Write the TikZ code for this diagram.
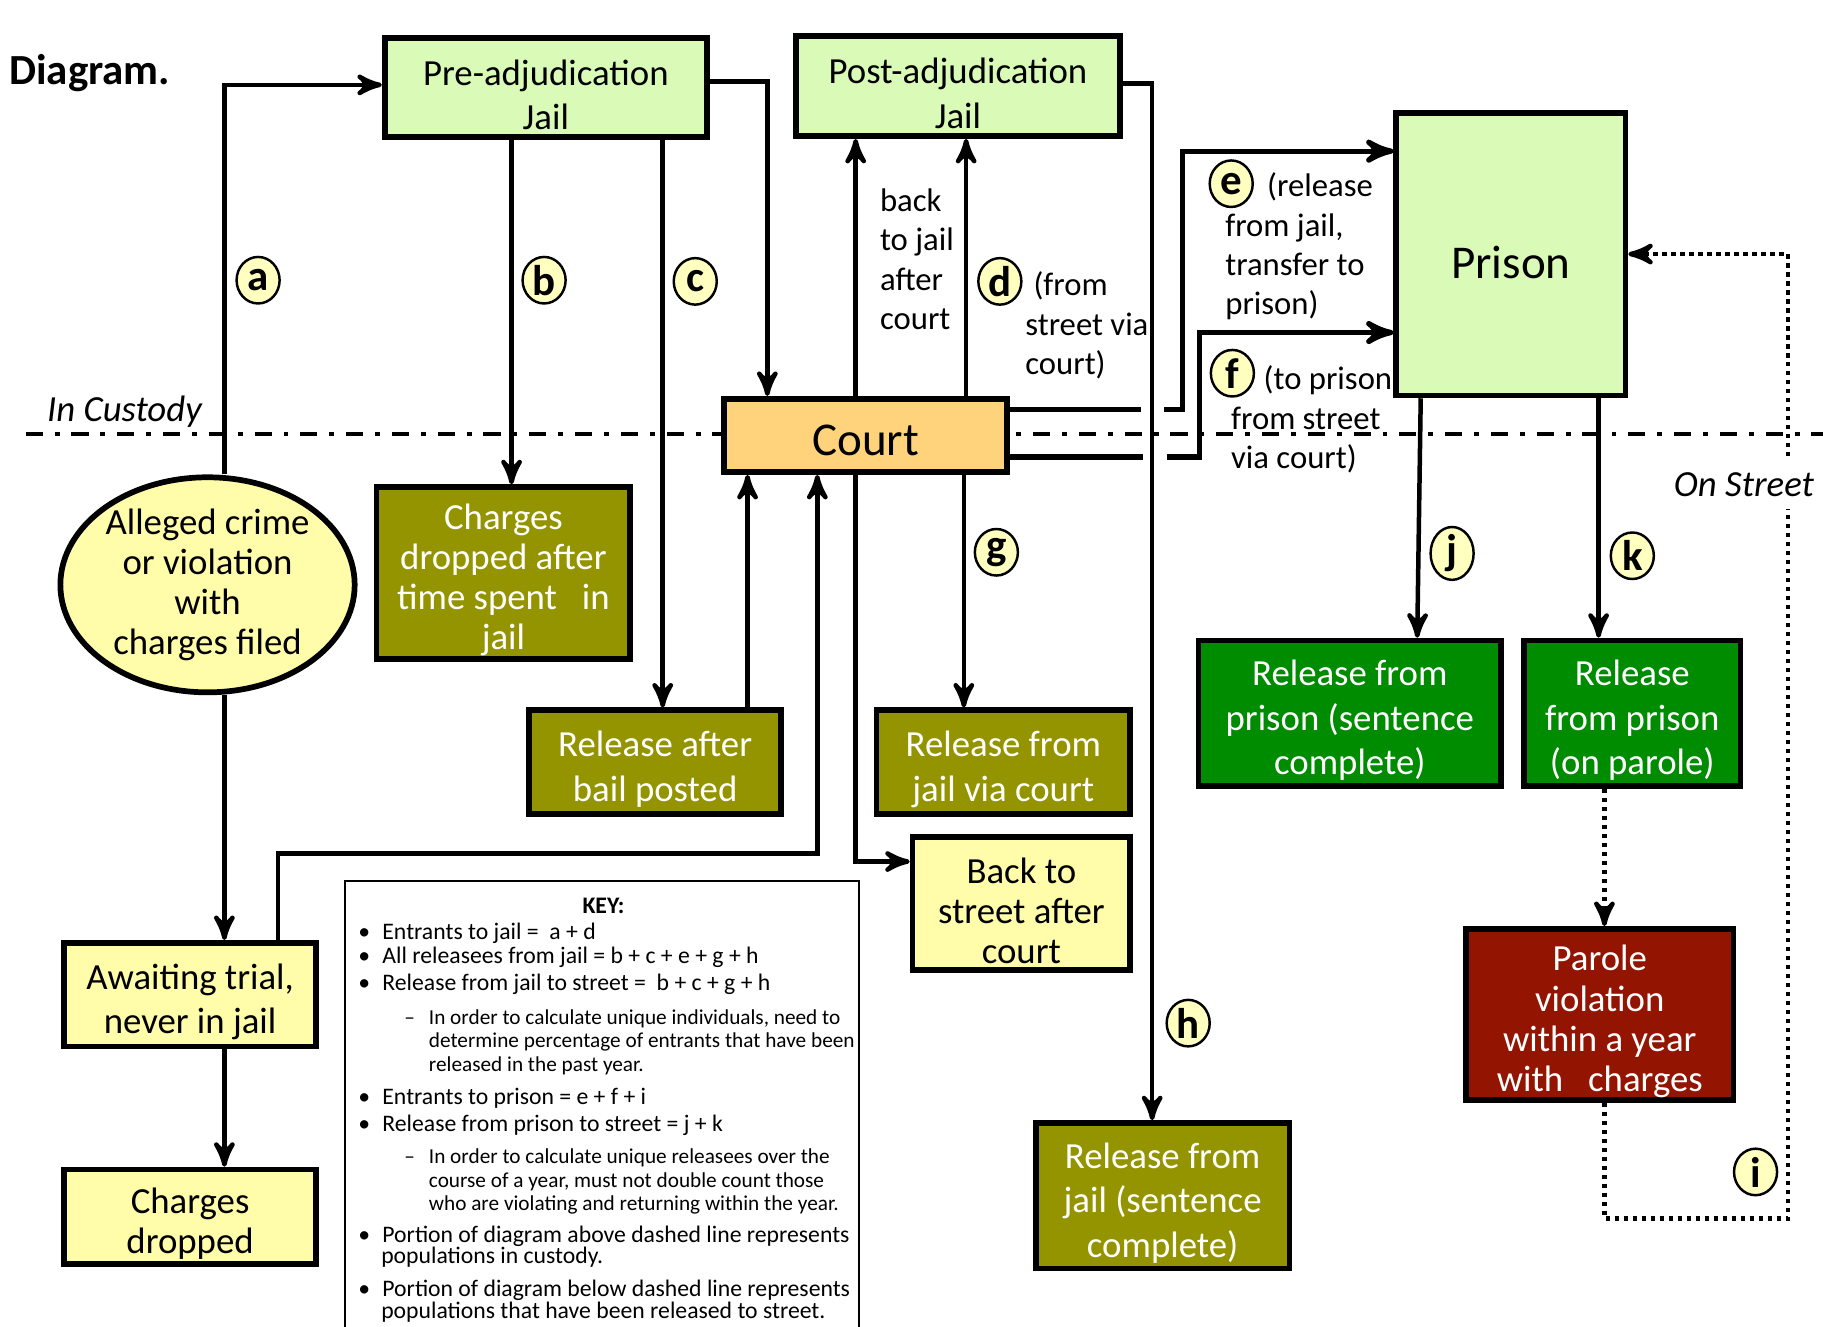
\documentclass[tikz,border=0pt]{standalone}
\usepackage[dvipsnames]{xcolor}
\usepackage{fontspec}
\setmainfont{Carlito}
\usepackage{tikz}
\usetikzlibrary{shapes.geometric, arrows}

\definecolor{jailgreen}{HTML}{DAFBB8}
\definecolor{courtorange}{HTML}{FFD37C}
\definecolor{paleyellow}{HTML}{FFFCAA}
\definecolor{jailolive}{HTML}{949400}
\definecolor{prisongreen}{HTML}{008C00}
\definecolor{violred}{HTML}{931400}
\definecolor{tagyellow}{HTML}{FFFFC0}

% pushes the text of a box a little lower
\newcommand{\boxstrut}[1][9.7pt]{\rule{0pt}{#1}}

\begin{document}
\begin{tikzpicture}[x=0.01cm,y=-0.01cm,>=stealth',line width=1.1pt]
\tikzstyle{block} = [rectangle, draw=black, line width=1.4pt, align=center, inner sep=0pt, font=\fontsize{9}{10.9}\selectfont]
\tikzstyle{custodybox} = [block, fill=jailgreen]
\tikzstyle{streetbox} = [block, fill=paleyellow]
\tikzstyle{jailrelease} = [block, fill=jailolive, text=white]
\tikzstyle{prisonrelease} = [block, fill=prisongreen, text=white]
\tikzstyle{violbox} = [block, fill=violred, text=white]
\tikzstyle{tightlines} = [font=\fontsize{9}{9.8}\selectfont]
\tikzstyle{bigname} = [font=\fontsize{11.5}{13}\selectfont]
\tikzstyle{flowarrow} = [->, line width=1.1pt]
\tikzstyle{thickflow} = [line width=1.3pt]
\tikzstyle{dotflow} = [line width=1.1pt, dash pattern=on 1.1pt off 1.1pt]
\tikzstyle{custodyline} = [line width=1pt, dash pattern=on 4.2pt off 2.9pt on 1.2pt off 2.9pt]
\tikzstyle{letter} = [ellipse, draw=black, line width=0.6pt, fill=tagyellow, inner sep=0pt, minimum width=0.37cm, minimum height=0.40cm, font=\fontsize{10.5}{10.5}\bfseries\selectfont]
\tikzstyle{notetext} = [align=left, inner sep=0pt, anchor=west, font=\fontsize{8}{9.65}\selectfont]
\tikzstyle{keyitem} = [anchor=base west, inner sep=0pt, font=\fontsize{5.8}{6}\selectfont]
\tikzstyle{keysub} = [keyitem, font=\fontsize{5.2}{6}\selectfont]

\useasboundingbox (0,0) rectangle (1568,1141);

% boundary between custody and street
\draw[custodyline] (22,373) -- (1568,373);

% stages
\node[custodybox, minimum width=2.77cm, minimum height=0.85cm] (preadj) at (469.5,75.5) {\boxstrut Pre-adjudication\\Jail};
\node[custodybox, minimum width=2.78cm, minimum height=0.86cm] (postadj) at (824,74) {\boxstrut Post-adjudication\\Jail};
\node[custodybox, bigname, minimum width=1.97cm, minimum height=2.43cm] (prison) at (1299.5,218.5) {\boxstrut[12pt]Prison};
\node[block, bigname, fill=courtorange, minimum width=2.43cm, minimum height=0.63cm] (court) at (744.5,374.5) {\boxstrut Court};
\node[ellipse, draw=black, line width=1.4pt, fill=paleyellow, align=center, inner sep=0pt, tightlines, minimum width=2.53cm, minimum height=1.78cm] (ell) at (178.5,503) {Alleged crime\\or violation\\with\\charges filed};

\node[jailrelease, tightlines, minimum width=2.18cm, minimum height=1.48cm] (dropjail) at (433,493) {\boxstrut Charges\\dropped after\\time spent~~~in\\jail};
\node[jailrelease, minimum width=2.17cm, minimum height=0.89cm] (bail) at (563.5,655.5) {\boxstrut Release after\\bail posted};
\node[jailrelease, minimum width=2.18cm, minimum height=0.89cm] (viacourt) at (863,655.5) {\boxstrut Release from\\jail via court};
\node[streetbox, tightlines, minimum width=1.87cm, minimum height=1.14cm] (backstreet) at (878.5,777) {\boxstrut Back to\\street after\\court};
\node[jailrelease, minimum width=2.18cm, minimum height=1.25cm] (jaildone) at (1000,1028.5) {\boxstrut Release from\\jail (sentence\\complete)};
\node[prisonrelease, minimum width=2.60cm, minimum height=1.25cm] (prisondone) at (1161,613.5) {\boxstrut Release from\\prison (sentence\\complete)};
\node[prisonrelease, minimum width=1.86cm, minimum height=1.25cm] (parole) at (1404,613.5) {\boxstrut Release\\from prison\\(on parole)};
\node[violbox, tightlines, minimum width=2.30cm, minimum height=1.47cm] (violation) at (1376,872.5) {\boxstrut Parole\\violation\\within a year\\with~~~charges};
\node[streetbox, minimum width=2.17cm, minimum height=0.89cm] (awaiting) at (163.5,855.5) {\boxstrut Awaiting trial,\\never in jail};
\node[streetbox, tightlines, minimum width=2.17cm, minimum height=0.81cm] (dropped) at (163.5,1046.5) {\boxstrut Charges\\dropped};

% flows
\draw[flowarrow] (ell.north -| 193,0) |- (preadj.west |- 0,73);
\draw[flowarrow] (ell.south -| 193,0) -- (awaiting.north -| 193,0);
\draw[flowarrow] (awaiting.south -| 193,0) -- (dropped.north -| 193,0);
\draw[flowarrow] (preadj.south -| 440,0) -- (dropjail.north -| 440,0);
\draw[flowarrow] (preadj.south -| 570,0) -- (bail.north -| 570,0);
\draw[flowarrow] (preadj.east |- 0,70) -| (court.north -| 660,0);
\draw[flowarrow] (bail.north -| 643,0) -- (court.south -| 643,0);
\draw[flowarrow] (awaiting.north -| 239,0) |- (703,734) -- (court.south -| 703,0);
\draw[flowarrow] (court.south -| 736,0) |- (backstreet.west |- 0,741);
\draw[flowarrow] (court.north -| 736,0) -- (postadj.south -| 736,0);
\draw[flowarrow] (court.north -| 831,0) -- (postadj.south -| 831,0);
\draw[flowarrow] (court.south -| 829,0) -- (viacourt.north -| 829,0);
\draw[flowarrow] (postadj.east |- 0,72) -| (jaildone.north -| 991,0);

% e and f hop over h
\coordinate (ehopin) at (981,352);
\coordinate (ehopout) at (1001,352);
\coordinate (fhopin) at (983,393);
\coordinate (fhopout) at (1004,393);
\draw[thickflow] (court.east |- ehopin) -- (ehopin);
\draw[thickflow,->] (ehopout) -- (1017,352) |- (prison.west |- 0,130);
\draw[thickflow] (court.east |- fhopin) -- (fhopin);
\draw[thickflow,->] (fhopout) -- (1032,393) |- (prison.west |- 0,286);

\draw[flowarrow] (prison.south -| 1222,0) -- (prisondone.north -| 1219,0);
\draw[flowarrow] (prison.south -| 1375,0) -- (parole.north -| 1375,0);

% parole loop
\draw[dotflow,->] (parole.south -| 1380,0) -- (violation.north -| 1380,0);
\draw[dotflow,->] (violation.south -| 1380,0) |- (1538,1048) |- (prison.east);

% flow letters
\node[letter] (la) at (222,241) {a};
\node[letter] (lb) at (468,241) {b};
\node[letter] (lc) at (598,242) {c};
\node[letter] (ld) at (860,242) {d};
\node[letter] (le) at (1059,158) {e};
\node[letter] (lf) at (1060,321) {f};
\node[letter] (lg) at (857,475) {g};
\node[letter] (lh) at (1022,880) {h};
\node[letter] (li) at (1510,1008) {i};
\node[letter] (lj) at (1249,476) {j};
\node[letter] (lk) at (1404,478) {k};

% notes beside flows
\node[notetext] (backnote) at (755,223) {back\\to jail\\after\\court};
\node[notetext] (dnote) at (880,280) {\hspace*{0.07cm}(from\\street via\\court)};
\node[notetext] (enote) at (1052,212) {\hspace*{0.36cm}(release\\from jail,\\transfer to\\prison)};
\node[notetext] (fnote) at (1057,361) {\hspace*{0.28cm}(to prison\\from street\\via court)};

% titles
\node[anchor=west, inner sep=0pt, font=\fontsize{10.5}{12}\bfseries\selectfont] (title) at (6,63) {Diagram.};
\node[inner sep=0pt, font=\fontsize{9}{11}\itshape\selectfont] (custodylabel) at (107,354) {In Custody};
\node[fill=white, inner xsep=1pt, inner ysep=3pt, font=\fontsize{9}{11}\itshape\selectfont] (streetlabel) at (1500,417) {On Street};

% key
\node[draw, line width=0.5pt, anchor=north west, minimum width=4.42cm, minimum height=4.3cm, inner sep=0pt] (keybox) at (296,757) {};
\node[keyitem, anchor=base, font=\fontsize{5.8}{6}\bfseries\selectfont] (k0) at (519,786) {KEY:};
\node[keyitem] (k1) at (327,808) {\llap{\textbullet\hspace{3pt}}Entrants to jail =~~a + d};
\node[keyitem] (k2) at (327,829) {\llap{\textbullet\hspace{3pt}}All releasees from jail = b + c + e + g + h};
\node[keyitem] (k3) at (327,852) {\llap{\textbullet\hspace{3pt}}Release from jail to street =~~b + c + g + h};
\node[keysub] (k4) at (367,881) {\llap{–\hspace{3.4pt}}In order to calculate unique individuals, need to};
\node[keysub] (k5) at (367,901) {determine percentage of entrants that have been};
\node[keysub] (k6) at (367,922) {released in the past year.};
\node[keyitem] (k7) at (327,950) {\llap{\textbullet\hspace{3pt}}Entrants to prison = e + f + i};
\node[keyitem] (k8) at (327,973) {\llap{\textbullet\hspace{3pt}}Release from prison to street = j + k};
\node[keysub] (k9) at (367,1001) {\llap{–\hspace{3.4pt}}In order to calculate unique releasees over the};
\node[keysub] (k10) at (367,1021) {course of a year, must not double count those};
\node[keysub] (k11) at (367,1041) {who are violating and returning within the year.};
\node[keyitem] (k12) at (327,1069) {\llap{\textbullet\hspace{3pt}}Portion of diagram above dashed line represents};
\node[keyitem] (k13) at (326,1087) {populations in custody.};
\node[keyitem] (k14) at (327,1115) {\llap{\textbullet\hspace{3pt}}Portion of diagram below dashed line represents};
\node[keyitem] (k15) at (326,1134) {populations that have been released to street.};

\end{tikzpicture}
\end{document}
